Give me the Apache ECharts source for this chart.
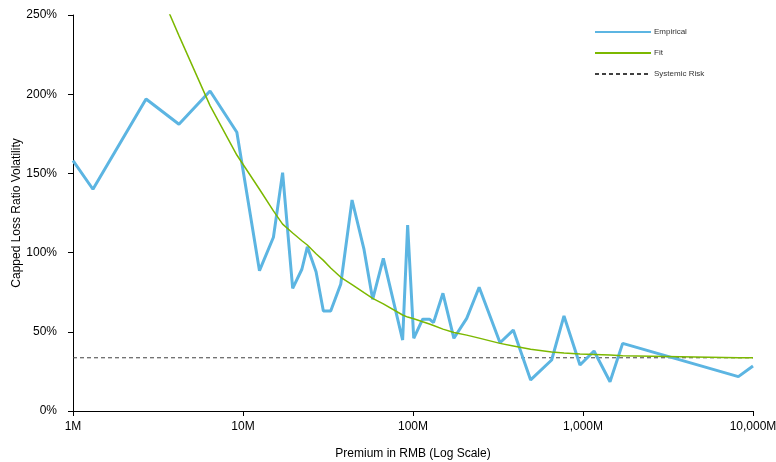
<!DOCTYPE html>
<html>
<head>
<meta charset="utf-8">
<style>
  html, body { margin: 0; padding: 0; background: #fff; }
  #chart { width: 776px; height: 462px; }
</style>
<script src="https://cdn.jsdelivr.net/npm/echarts@6/dist/echarts.min.js"></script>
</head>
<body>
<div id="chart"></div>
<script>
// Premium (RMB, millions) for each observed bucket
const premiumM = [1, 1.31, 2.69, 4.2, 6.4, 9.2, 12.5, 15.1, 17.1, 19.6, 22.2, 23.9, 26.9, 29.7, 32.8, 37.6,
  43.8, 51.5, 57.9, 66.9, 86.9, 93, 101, 114, 125, 132, 150, 174, 207, 245, 325, 389, 492, 654, 773,
  960, 1161, 1442, 1711, 8200, 10000];
// Empirical capped loss ratio volatility (%)
const empirical = [158, 140, 197, 181, 202, 176, 88.6, 109.7, 150.5, 77.4, 89.5, 103.7, 87.9, 63.1, 63.1, 80.2,
  133.2, 102, 70.5, 96.4, 44.8, 117.4, 45.9, 58, 58, 55.8, 74.3, 45.9, 58.5, 78.1, 43.1, 51.1, 19.6, 32.2, 60,
  29, 37.9, 18.5, 42.7, 21.7, 28.4];
// Fitted curve (%) at the same premium points
const fitted = [480, 380, 285, 237, 192.8, 161.6, 140, 126.3, 118, 112.4, 107.5, 104.8, 99.3, 95.1, 90.3, 84.4,
  79.8, 74.7, 71.1, 67.6, 60.6, 59.3, 58.2, 56.3, 54.9, 54, 51.7, 49.6, 47.9, 46, 42.7, 41.1, 39, 37.3, 36.6,
  36, 35.7, 35.3, 34.9, 33.6, 33.6];
// Systemic risk floor (%)
const systemicRisk = 33.6;
const xRange = [1, 10000];
const yTicks = [0, 50, 100, 150, 200, 250];

const pairs = (xs, ys) => xs.map((x, i) => [x, ys[i]]);
const fontFamily = 'Liberation Sans, Arial, sans-serif';

const chart = echarts.init(document.getElementById('chart'), null, { renderer: 'canvas' });
chart.setOption({
  animation: false,
  backgroundColor: '#ffffff',
  grid: { left: 73, right: 23, top: 15, bottom: 51, containLabel: false, outerBoundsMode: 'none' },
  legend: {
    orient: 'vertical',
    left: 589,
    top: 23,
    itemWidth: 56,
    itemHeight: 10,
    itemGap: 13,
    itemStyle: { opacity: 0 },
    textStyle: { fontSize: 8, color: '#333', fontFamily: fontFamily, padding: [0, 0, 0, -2] },
    data: ['Empirical', 'Fit', 'Systemic Risk']
  },
  xAxis: {
    type: 'log',
    logBase: 10,
    min: xRange[0],
    max: xRange[1],
    name: 'Premium in RMB (Log Scale)',
    nameLocation: 'middle',
    nameGap: 37,
    nameMoveOverlap: false,
    nameTextStyle: { fontSize: 12, color: '#000', fontFamily: fontFamily },
    axisLine: { lineStyle: { color: '#000', width: 1 } },
    axisTick: { show: true, length: 5, lineStyle: { color: '#000' } },
    minorTick: { show: false },
    splitLine: { show: false },
    axisLabel: {
      fontSize: 12, color: '#000', fontFamily: fontFamily, margin: 10,
      formatter: v => Math.round(v).toLocaleString('en-US') + 'M'
    }
  },
  yAxis: {
    type: 'value',
    min: yTicks[0],
    max: yTicks[yTicks.length - 1],
    interval: 50,
    name: 'Capped Loss Ratio Volatility',
    nameLocation: 'middle',
    nameGap: 50,
    nameMoveOverlap: false,
    nameTextStyle: { fontSize: 12, color: '#000', fontFamily: fontFamily },
    axisLine: { show: true, lineStyle: { color: '#000', width: 1 } },
    axisTick: { show: true, length: 5, lineStyle: { color: '#000' } },
    splitLine: { show: false },
    axisLabel: { fontSize: 12, color: '#000', fontFamily: fontFamily, margin: 16, formatter: '{value}%' }
  },
  series: [
    {
      name: 'Empirical',
      type: 'line',
      data: pairs(premiumM, empirical),
      symbol: 'none',
      clip: true,
      lineStyle: { color: '#5cb5e2', width: 3 },
      itemStyle: { color: '#5cb5e2' },
      z: 3
    },
    {
      name: 'Fit',
      type: 'line',
      data: pairs(premiumM, fitted),
      symbol: 'none',
      clip: true,
      lineStyle: { color: '#7cb800', width: 1.5 },
      itemStyle: { color: '#7cb800' },
      z: 4
    },
    {
      name: 'Systemic Risk',
      type: 'line',
      data: pairs(xRange, [systemicRisk, systemicRisk]),
      symbol: 'none',
      lineStyle: { color: '#404040', width: 1, type: [4, 3] },
      itemStyle: { color: '#404040' },
      z: 2
    }
  ]
});
</script>
</body>
</html>
